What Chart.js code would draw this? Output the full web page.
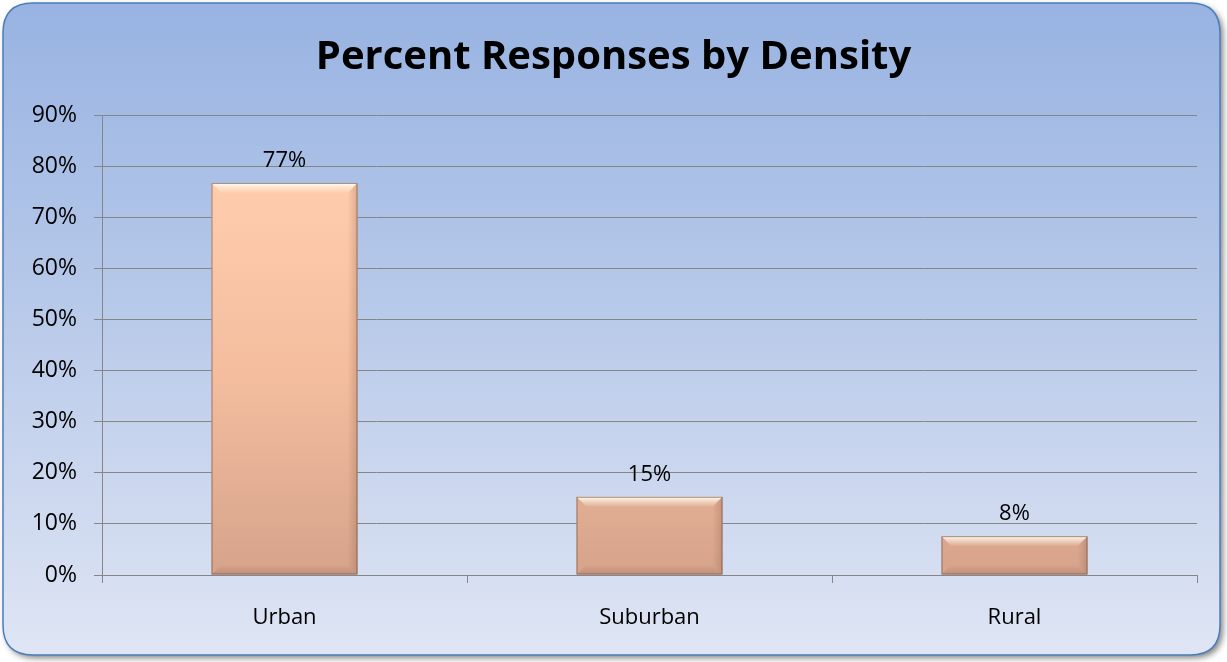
<!DOCTYPE html>
<html>
<head>
<meta charset="utf-8">
<script src="https://cdn.jsdelivr.net/npm/chart.js@4/dist/chart.umd.min.js"></script>
<style>
  html, body { margin: 0; padding: 0; background: #ffffff; }
  #wrap { width: 1227px; height: 662px; position: relative; }
</style>
</head>
<body>
<div id="wrap"><canvas id="c" width="1227" height="662"></canvas></div>
<script>
const categories = ["Urban", "Suburban", "Rural"];
const percentValues = [76.7, 15.3, 7.6];
const yTickMax = 90;
const yTickStep = 10;
const chartTitle = "Percent Responses by Density";

const FONT = "'Open Sans', 'Noto Sans', sans-serif";

function roundRect(ctx, x, y, w, h, r) {
  ctx.beginPath();
  ctx.moveTo(x + r, y);
  ctx.lineTo(x + w - r, y);
  ctx.quadraticCurveTo(x + w, y, x + w, y + r);
  ctx.lineTo(x + w, y + h - r);
  ctx.quadraticCurveTo(x + w, y + h, x + w - r, y + h);
  ctx.lineTo(x + r, y + h);
  ctx.quadraticCurveTo(x, y + h, x, y + h - r);
  ctx.lineTo(x, y + r);
  ctx.quadraticCurveTo(x, y, x + r, y);
  ctx.closePath();
}

const panelBg = {
  id: 'panelBg',
  beforeDraw(chart) {
    const ctx = chart.ctx;
    const W = chart.width, H = chart.height;
    ctx.save();
    ctx.shadowColor = 'rgba(0,0,0,0.5)';
    ctx.shadowBlur = 6;
    ctx.shadowOffsetX = 3;
    ctx.shadowOffsetY = 3;
    roundRect(ctx, 3, 3, W - 10, H - 10, 30);
    const g = ctx.createLinearGradient(0, 3, 0, H - 7);
    g.addColorStop(0, '#98B3E2');
    g.addColorStop(0.5, '#BACBEA');
    g.addColorStop(1, '#DFE5F4');
    ctx.fillStyle = g;
    ctx.fill();
    ctx.shadowColor = 'transparent';
    ctx.lineWidth = 1.5;
    ctx.strokeStyle = '#4A7EBB';
    ctx.stroke();
    ctx.restore();
  }
};

const barBevel = {
  id: 'barBevel',
  afterDatasetsDraw(chart) {
    const ctx = chart.ctx;
    const meta = chart.getDatasetMeta(0);
    ctx.save();
    meta.data.forEach((bar) => {
      const p = bar.getProps(['x', 'y', 'base', 'width'], true);
      const left = p.x - p.width / 2, right = p.x + p.width / 2;
      const top = p.y, bottom = p.base;
      const b = Math.min(10, (bottom - top) / 3);
      const gt = ctx.createLinearGradient(0, top, 0, top + b);
      gt.addColorStop(0, 'rgba(255,255,245,0.95)');
      gt.addColorStop(1, 'rgba(255,240,225,0.05)');
      ctx.fillStyle = gt;
      ctx.beginPath();
      ctx.moveTo(left, top);
      ctx.lineTo(right, top);
      ctx.lineTo(right - b, top + b);
      ctx.lineTo(left + b, top + b);
      ctx.closePath();
      ctx.fill();
      const gr = ctx.createLinearGradient(right - b, 0, right, 0);
      gr.addColorStop(0, 'rgba(120,80,60,0)');
      gr.addColorStop(1, 'rgba(120,80,60,0.25)');
      ctx.fillStyle = gr;
      ctx.beginPath();
      ctx.moveTo(right, top);
      ctx.lineTo(right, bottom);
      ctx.lineTo(right - b, bottom - b);
      ctx.lineTo(right - b, top + b);
      ctx.closePath();
      ctx.fill();
      const gb = ctx.createLinearGradient(0, bottom - b, 0, bottom);
      gb.addColorStop(0, 'rgba(110,70,50,0)');
      gb.addColorStop(1, 'rgba(110,70,50,0.2)');
      ctx.fillStyle = gb;
      ctx.beginPath();
      ctx.moveTo(left, bottom);
      ctx.lineTo(right, bottom);
      ctx.lineTo(right - b, bottom - b);
      ctx.lineTo(left + b, bottom - b);
      ctx.closePath();
      ctx.fill();
      ctx.strokeStyle = 'rgba(110,75,55,0.6)';
      ctx.lineWidth = 1;
      ctx.strokeRect(left + 0.5, top + 0.5, p.width - 1, bottom - top - 1);
    });
    ctx.restore();
  }
};

const dataLabels = {
  id: 'dataLabels',
  afterDatasetsDraw(chart) {
    const ctx = chart.ctx;
    const meta = chart.getDatasetMeta(0);
    const vals = chart.data.datasets[0].data;
    ctx.save();
    ctx.font = '22px ' + FONT;
    ctx.fillStyle = '#000';
    ctx.textAlign = 'center';
    ctx.textBaseline = 'alphabetic';
    meta.data.forEach((bar, i) => {
      ctx.fillText(Math.round(vals[i]) + '%', bar.x, bar.y - 16);
    });
    ctx.restore();
  }
};

new Chart(document.getElementById('c'), {
  type: 'bar',
  data: {
    labels: categories,
    datasets: [{
      data: percentValues,
      backgroundColor(ctx) {
        const area = ctx.chart.chartArea;
        if (!area) return '#F6BE9E';
        const g = ctx.chart.ctx.createLinearGradient(0, area.top + 60, 0, area.bottom);
        g.addColorStop(0, '#FFCDAE');
        g.addColorStop(0.5, '#F3BD9E');
        g.addColorStop(1, '#D6A38B');
        return g;
      },
      borderWidth: 0,
      barPercentage: 0.8,
      categoryPercentage: 0.5
    }]
  },
  plugins: [panelBg, barBevel, dataLabels],
  options: {
    responsive: false,
    animation: false,
    devicePixelRatio: 1,
    layout: { padding: { left: 30, right: 30, top: 0, bottom: 0 } },
    plugins: {
      legend: { display: false },
      tooltip: { enabled: false },
      title: {
        display: true,
        text: chartTitle,
        color: '#000',
        font: { family: FONT, size: 40, weight: 'bold', lineHeight: 1.2 },
        padding: { top: 34, bottom: 33 }
      }
    },
    scales: {
      x: {
        grid: {
          display: true,
          drawOnChartArea: false,
          drawTicks: true,
          tickLength: 8,
          color: '#868686',
          offset: true
        },
        border: { display: true, color: '#868686', width: 1 },
        ticks: {
          color: '#000',
          font: { family: FONT, size: 22 },
          padding: 22
        },
        afterFit(scale) { scale.height = 87; }
      },
      y: {
        min: 0,
        max: yTickMax,
        grid: {
          color: '#868686',
          lineWidth: 1,
          drawTicks: true,
          tickLength: 8
        },
        border: { display: true, color: '#868686', width: 1 },
        ticks: {
          stepSize: yTickStep,
          color: '#000',
          font: { family: FONT, size: 23 },
          padding: 17,
          callback: (v) => v + '%'
        },
        afterFit(scale) { scale.width = 72; }
      }
    }
  }
});
</script>
</body>
</html>
